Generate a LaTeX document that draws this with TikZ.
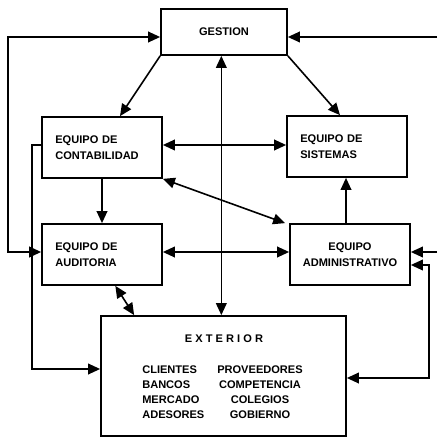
\documentclass[tikz,border=0pt]{standalone}
\usepackage{fontspec}
\setmainfont{Liberation Sans}
\usetikzlibrary{arrows.meta}
\tikzset{
caja/.style={draw,line width=1.3pt,rectangle,minimum width=90pt,minimum height=45.75pt,inner xsep=10pt,text width=70pt,align=left,font=\bfseries\fontsize{8.3}{12}\selectfont},
texto/.style={inner sep=0pt,font=\bfseries\fontsize{8.3}{11.25}\selectfont},
flecha/.style={line width=1.2pt,-{Triangle[length=9pt,width=8pt]}},
dflecha/.style={line width=1.2pt,{Triangle[length=9pt,width=8pt]}-{Triangle[length=9pt,width=8pt]}}
}
\begin{document}
\begin{tikzpicture}[x=0.75pt,y=-0.75pt]
\useasboundingbox(0,0)rectangle(437,438);
\node[caja,minimum width=94.5pt,minimum height=34.5pt,text width=74.5pt,align=center](ges)at(224,32){GESTION};
\node[caja](con)at(102,147.5){EQUIPO DE\\CONTABILIDAD};
\node[caja](sis)at(347,146.5){EQUIPO DE\\SISTEMAS};
\node[caja](aud)at(102,254.5){EQUIPO DE\\AUDITORIA};
\node[caja,inner xsep=5pt,text width=80pt,align=center](adm)at(350,254.5){EQUIPO\\ADMINISTRATIVO};
\node[draw,line width=1.3pt,minimum width=183.75pt,minimum height=90pt](ext)at(223.5,376){};
\node[texto](exttit)at(224,339){E X T E R I O R};
\node[texto,anchor=west,align=left](extizq)at(142,392.5){CLIENTES\\BANCOS\\MERCADO\\ADESORES};
\node[texto,align=center](extder)at(260,392.5){PROVEEDORES\\COMPETENCIA\\COLEGIOS\\GOBIERNO};
\coordinate(lt)at(8,37);\coordinate(lb)at(8,252);
\coordinate(rt)at(437,37);\coordinate(rb)at(437,252);
\coordinate(ar)at(429,265);\coordinate(ab)at(429,378);
\coordinate(cl)at(32,145);\coordinate(cb)at(32,369);
\draw[dflecha](aud.west|-lb)--(lb)--(lt)--(ges.west|-lt);
\draw[flecha](rt)--(ges.east|-rt);
\draw[flecha](rb)--(adm.east|-rb);
\draw[dflecha](adm.east|-ar)--(ar)--(ab)--(ext.east|-ab);
\draw[flecha](con.west|-cl)--(cl)--(cb)--(ext.west|-cb);
\draw[flecha](ges.south west)--([xshift=13.5pt]con.north);
\draw[flecha](ges.south east)--([xshift=-5.25pt]sis.north);
\draw[dflecha]([xshift=-2pt]ges.south)--([xshift=-2pt]ges.south|-ext.north);
\draw[dflecha](con.east|-cl)--(sis.west|-cl);
\draw[flecha](con.south)--(aud.north);
\draw[dflecha](con.south east)--([xshift=-3pt]adm.north west);
\draw[flecha]([xshift=-3pt]adm.north)--([xshift=-3pt]adm.north|-sis.south);
\draw[dflecha](aud.east|-lb)--(adm.west|-lb);
\draw[dflecha]([xshift=10pt]aud.south)--([xshift=25.5pt]ext.north west);
\end{tikzpicture}
\end{document}
